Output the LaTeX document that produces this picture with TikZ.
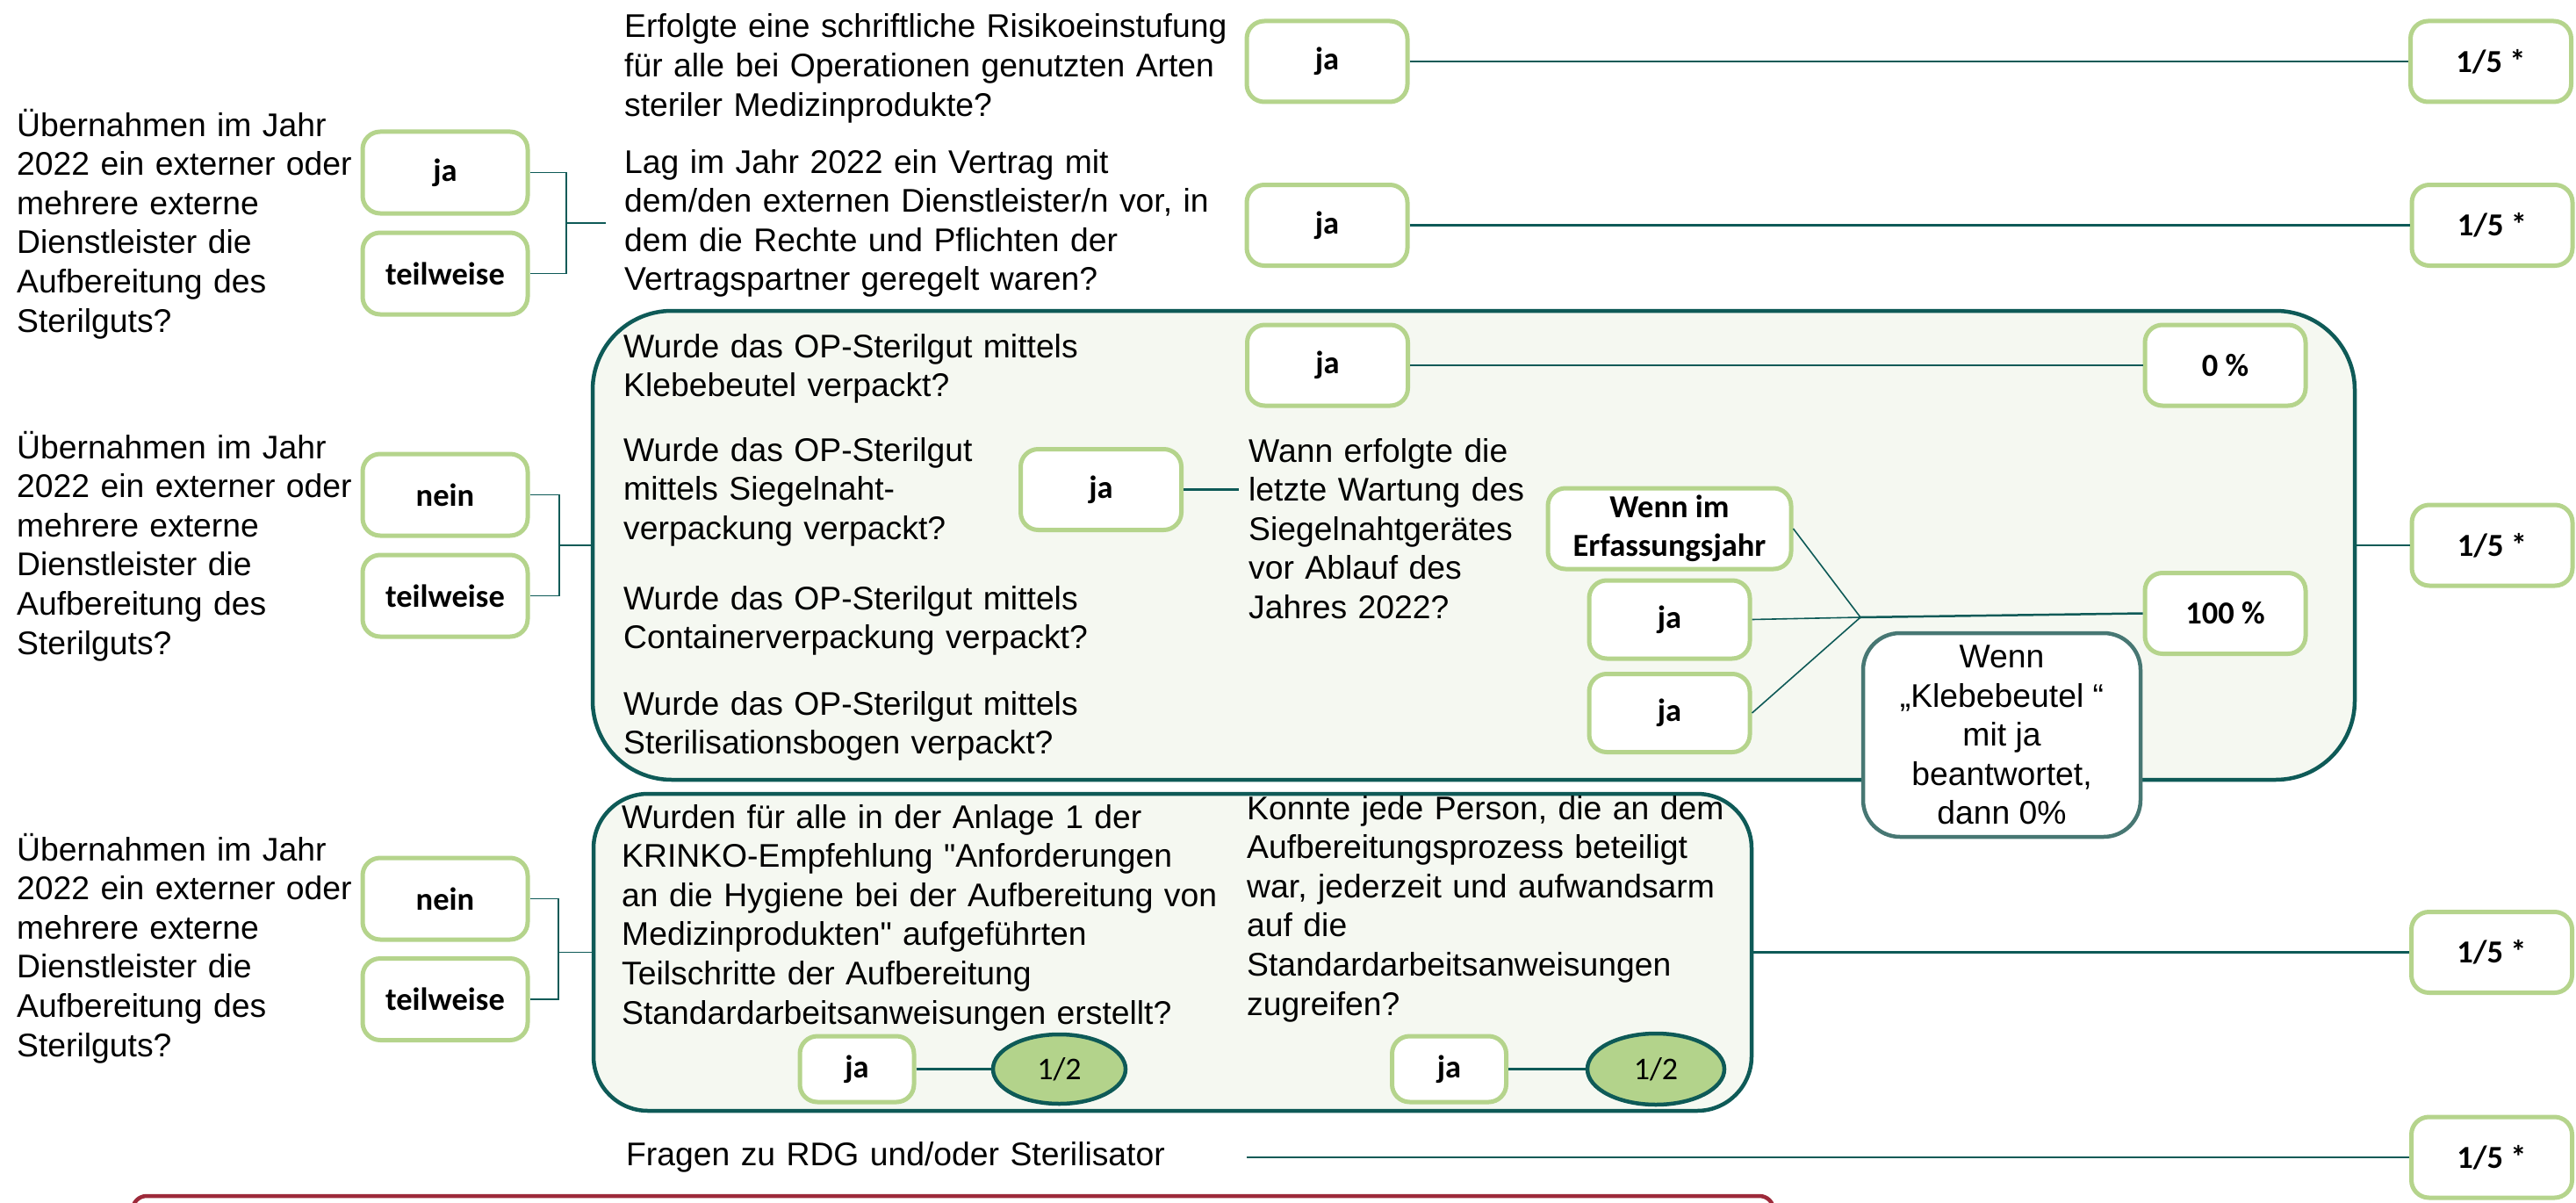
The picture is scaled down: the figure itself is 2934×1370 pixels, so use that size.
\documentclass[tikz,border=0pt]{standalone}
\usepackage{fontspec}
\setmainfont{Liberation Sans}
\newfontfamily\arialtxt{Liberation Sans}
\newfontfamily\carl{Carlito}
\usetikzlibrary{shapes.geometric}
\definecolor{gbord}{HTML}{B5D48C}
\definecolor{teal1}{HTML}{0E5A57}
\definecolor{boxfill}{HTML}{F5F8F1}
\definecolor{wennbord}{HTML}{477773}
\definecolor{ellfill}{HTML}{B3D38B}
\definecolor{redbord}{HTML}{9D2A3A}
\begin{document}
\begin{tikzpicture}[x=1pt,y=-1pt,
  gbox/.style={draw=gbord, line width=5pt, rounded corners=20pt, fill=white, inner sep=0pt, align=center,
    font=\carl\bfseries\fontsize{36.5}{44}\selectfont, minimum width=183pt, minimum height=92pt},
  smallbox/.style={gbox, minimum width=130pt, minimum height=75pt},
  bigbox/.style={draw=teal1, line width=4.5pt, fill=boxfill, inner sep=0pt},
  tealbox/.style={draw=wennbord, line width=4.5pt, rounded corners=42pt, fill=white, inner sep=0pt, align=center,
    font=\arialtxt\fontsize{37.3}{44.5}\selectfont},
  halfell/.style={ellipse, draw=teal1, line width=4.5pt, fill=ellfill, inner sep=0pt,
    font=\carl\fontsize{36}{44}\selectfont},
  qtext/.style={anchor=base west, inner sep=0pt, align=left, text width=780pt,
    font=\arialtxt\fontsize{37.3}{44.6}\selectfont},
  conn/.style={draw=teal1, line width=2.5pt},
  thinconn/.style={draw=teal1, line width=1.6pt}
]
\fill[white] (0,0) rectangle (2934,1370);
\useasboundingbox (0,0) rectangle (2934,1370);

% big grouping boxes
\node[bigbox, rounded corners=90pt, minimum width=2007pt, minimum height=534pt] (box1) at (1678.5,621) {};
\node[bigbox, rounded corners=62pt, minimum width=1319pt, minimum height=361pt] (box2) at (1335.5,1084.5) {};

% red box at bottom (cut by the page edge)
\begin{scope}
\clip (0,0) rectangle (2934,1370);
\draw[draw=redbord, line width=4.5pt, rounded corners=16pt, fill=white] (151,1420) -- (151,1362) -- (2020,1362) -- (2020,1420);
\end{scope}

% coordinates for connector ends
\coordinate (g1x) at (645,254);
\coordinate (g1end) at (690,254);
\coordinate (g2x) at (637,621);
\coordinate (g3x) at (636,1084.5);
\coordinate (wannL) at (1411,557.5);
\coordinate (junc) at (2119,703);
\coordinate (fstart) at (1420,1318);

% green answer boxes
\node[gbox] (r1ja) at (1511.5,70) {ja};
\node[gbox] (r1res) at (2837,70) {1/5 *};
\node[gbox] (r2ja) at (1511.5,256.5) {ja};
\node[gbox] (r2res) at (2838.5,256.5) {1/5 *};

\node[gbox, minimum width=188pt, minimum height=93pt] (g1ja) at (507,196.5) {ja};
\node[gbox, minimum width=188pt, minimum height=93pt] (g1teil) at (507,311.5) {teilweise};
\node[gbox, minimum width=188pt, minimum height=93pt] (g2nein) at (507,563.5) {nein};
\node[gbox, minimum width=188pt, minimum height=93pt] (g2teil) at (507,678.5) {teilweise};
\node[gbox, minimum width=188pt, minimum height=93pt] (g3nein) at (507,1023.5) {nein};
\node[gbox, minimum width=188pt, minimum height=93pt] (g3teil) at (507,1138) {teilweise};

\node[gbox] (b1ja) at (1512,416) {ja};
\node[gbox] (b1zero) at (2534.5,416) {0 \%};
\node[gbox] (b1sja) at (1254,557.5) {ja};
\node[gbox, minimum width=277pt, minimum height=92pt] (wenn) at (1901.5,602) {Wenn im\\Erfassungsjahr};
\node[gbox, minimum height=89pt] (ja2) at (1901.5,705.5) {ja};
\node[gbox, minimum height=89pt] (ja3) at (1901.5,812) {ja};
\node[gbox] (hundred) at (2534.5,698.5) {100 \%};
\node[gbox] (b1res) at (2838.5,621) {1/5 *};

\node[smallbox] (b2ja1) at (976,1217.5) {ja};
\node[halfell, minimum width=151pt, minimum height=79pt] (ell1) at (1206.5,1217.5) {1/2};
\node[smallbox] (b2ja2) at (1650.5,1217.5) {ja};
\node[halfell, minimum width=156pt, minimum height=81pt] (ell2) at (1886,1217.5) {1/2};
\node[gbox] (b2res) at (2838,1084.5) {1/5 *};
\node[gbox] (fres) at (2838,1318) {1/5 *};

% connectors
\draw[conn] (r1ja.east) -- (r1res.west);
\draw[conn] (r2ja.east) -- (r2res.west);
\draw[thinconn] (g1ja.east) -| (g1x) |- (g1teil.east);
\draw[thinconn] (g1x) -- (g1end);
\draw[thinconn] (g2nein.east) -| (g2x) |- (g2teil.east);
\draw[thinconn] (g2x) -- (box1.west);
\draw[thinconn] (g3nein.east) -| (g3x) |- (g3teil.east);
\draw[thinconn] (g3x) -- (box2.west);
\draw[conn] (b1ja.east) -- (b1zero.west);
\draw[conn] (b1sja.east) -- (wannL);
\draw[thinconn] (wenn.east) -- (junc);
\draw[thinconn] (ja2.east) -- (junc);
\draw[thinconn] (ja3.east) -- (junc);
\draw[conn] (junc) -- (hundred.west);
\draw[conn] (box1.east) -- (b1res.west);
\draw[conn] (b2ja1.east) -- (ell1.west);
\draw[conn] (b2ja2.east) -- (ell2.west);
\draw[conn] (box2.east) -- (b2res.west);
\draw[conn] (fstart) -- (fres.west);

% the note box over the lower border of box1
\node[tealbox, minimum width=316pt, minimum height=232pt] (kleb) at (2280,837) {Wenn\\„Klebebeutel “\\mit ja\\beantwortet,\\dann 0\%};

% question texts
\node[qtext] (t1) at (711,43) {Erfolgte eine schriftliche Risikoeinstufung\\für alle bei Operationen genutzten Arten\\steriler Medizinprodukte?};
\node[qtext] (t2) at (711,197) {Lag im Jahr 2022 ein Vertrag mit\\dem/den externen Dienstleister/n vor, in\\dem die Rechte und Pflichten der\\Vertragspartner geregelt waren?};
\node[qtext] (q1) at (19,155) {Übernahmen im Jahr\\2022 ein externer oder\\mehrere externe\\Dienstleister die\\Aufbereitung des\\Sterilguts?};
\node[qtext] (q2) at (19,522) {Übernahmen im Jahr\\2022 ein externer oder\\mehrere externe\\Dienstleister die\\Aufbereitung des\\Sterilguts?};
\node[qtext] (q3) at (19,980) {Übernahmen im Jahr\\2022 ein externer oder\\mehrere externe\\Dienstleister die\\Aufbereitung des\\Sterilguts?};
\node[qtext] (b1a) at (710,407) {Wurde das OP-Sterilgut mittels\\Klebebeutel verpackt?};
\node[qtext] (b1b) at (710,525) {Wurde das OP-Sterilgut\\mittels Siegelnaht-\\verpackung verpackt?};
\node[qtext] (b1c) at (710,694) {Wurde das OP-Sterilgut mittels\\Containerverpackung verpackt?};
\node[qtext] (b1d) at (710,814) {Wurde das OP-Sterilgut mittels\\Sterilisationsbogen verpackt?};
\node[qtext] (wann) at (1422,526) {Wann erfolgte die\\letzte Wartung des\\Siegelnahtgerätes\\vor Ablauf des\\Jahres 2022?};
\node[qtext] (b2a) at (708,943) {Wurden für alle in der Anlage 1 der\\KRINKO-Empfehlung "Anforderungen\\an die Hygiene bei der Aufbereitung von\\Medizinprodukten" aufgeführten\\Teilschritte der Aufbereitung\\Standardarbeitsanweisungen erstellt?};
\node[qtext] (b2b) at (1420,933) {Konnte jede Person, die an dem\\Aufbereitungsprozess beteiligt\\war, jederzeit und aufwandsarm\\auf die\\Standardarbeitsanweisungen\\zugreifen?};
\node[qtext] (fragen) at (713,1327) {Fragen zu RDG und/oder Sterilisator};
\end{tikzpicture}
\end{document}
